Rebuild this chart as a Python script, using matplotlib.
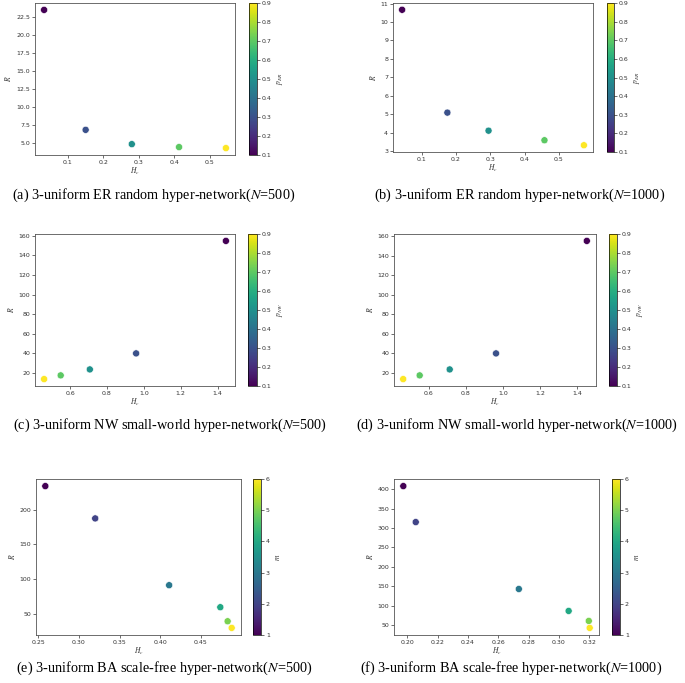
import numpy as np
import matplotlib
matplotlib.use('Agg')
import matplotlib.pyplot as plt

plt.rcParams['mathtext.fontset'] = 'stix'

# данные
p_vals = [0.1, 0.3, 0.5, 0.7, 0.9]
m_vals = [1, 2, 3, 4, 5, 6]

er500_h = [0.033, 0.150, 0.280, 0.413, 0.545]
er500_r = [23.47, 6.84, 4.86, 4.45, 4.31]
er1000_h = [0.043, 0.175, 0.295, 0.458, 0.573]
er1000_r = [10.66, 5.08, 4.10, 3.58, 3.31]

nw500_h = [1.445, 0.958, 0.707, 0.549, 0.459]
nw500_r = [154.9, 39.8, 23.4, 17.3, 13.5]
nw1000_h = [1.452, 0.962, 0.712, 0.550, 0.461]
nw1000_r = [155.0, 39.8, 23.4, 17.3, 13.5]

ba500_h = [0.2586, 0.320, 0.411, 0.474, 0.483, 0.488]
ba500_r = [234.2, 187.5, 91.0, 59.2, 38.9, 29.3]
ba1000_h = [0.1973, 0.2055, 0.2736, 0.3065, 0.3198, 0.3204]
ba1000_r = [407.7, 315.2, 143.2, 86.8, 61.1, 43.2]

captions = ['(a) 3-uniform ER random hyper-network(',
            '(b) 3-uniform ER random hyper-network(',
            '(c) 3-uniform NW small-world hyper-network(',
            '(d) 3-uniform NW small-world hyper-network(',
            '(e) 3-uniform BA scale-free hyper-network(',
            '(f) 3-uniform BA scale-free hyper-network(']
sizes = ['500', '1000', '500', '1000', '500', '1000']

W, H = 685, 683
fig = plt.figure(figsize=(W / 100, H / 100), dpi=100)


def px_axes(x0, y0, x1, y1):
    # прямоугольник в пикселях (отсчёт сверху) -> оси
    return fig.add_axes([x0 / W, 1 - y1 / H, (x1 - x0) / W, (y1 - y0) / H])


panels = [
    (er500_h, er500_r, p_vals, (35, 3, 235, 155), (249, 257), r'$p_{ER}$', (0.1, 0.9), 2.5),
    (er1000_h, er1000_r, p_vals, (393, 3, 593, 152), (607, 614), r'$p_{ER}$', (0.1, 0.9), 1.0),
    (nw500_h, nw500_r, p_vals, (35, 234, 235, 386), (248, 257), r'$p_{NW}$', (0.1, 0.9), 20),
    (nw1000_h, nw1000_r, p_vals, (394, 234, 596, 386), (609, 617), r'$p_{NW}$', (0.1, 0.9), 20),
    (ba500_h, ba500_r, m_vals, (36, 479, 241, 635), (253, 261), r'$m$', (1, 6), 50),
    (ba1000_h, ba1000_r, m_vals, (394, 479, 599, 635), (612, 620), r'$m$', (1, 6), 50),
]

fs = 4.5
for i, (hx, ry, cv, box, cb, cblab, lim, ystep) in enumerate(panels):
    x0, y0, x1, y1 = box
    ax = px_axes(x0, y0, x1, y1)
    sc = ax.scatter(hx, ry, c=cv, cmap='viridis', vmin=lim[0], vmax=lim[1],
                    s=26, edgecolors='white', linewidths=0.4, zorder=3)
    ax.yaxis.set_major_locator(plt.MultipleLocator(ystep))
    ax.tick_params(labelsize=fs, length=2, width=0.5, pad=1.5, colors='#333333')
    for sp in ax.spines.values():
        sp.set_linewidth(0.6)
        sp.set_color('#555555')
    ax.set_xlabel(r'$H_c$', fontsize=fs + 1, labelpad=1, color='#333333')
    ax.set_ylabel(r'$R$', fontsize=fs + 1, labelpad=2, color='#333333')

    cax = px_axes(cb[0], y0, cb[1], y1)
    cbar = fig.colorbar(sc, cax=cax)
    cbar.ax.tick_params(labelsize=fs, length=2, width=0.5, pad=1.5, colors='#333333')
    cbar.outline.set_linewidth(0.5)
    cbar.set_label(cblab, fontsize=fs + 1, labelpad=2, color='#333333')

    cx = [154, 520, 170, 517, 164, 511][i]
    cy = [195, 195, 425, 425, 668, 668][i]
    fig.text(cx / W, 1 - cy / H,
             captions[i] + r'$N$=' + sizes[i] + ')',
             ha='center', va='center', fontsize=10.3, family='Liberation Serif')

fig.savefig('out.png', dpi=100)
